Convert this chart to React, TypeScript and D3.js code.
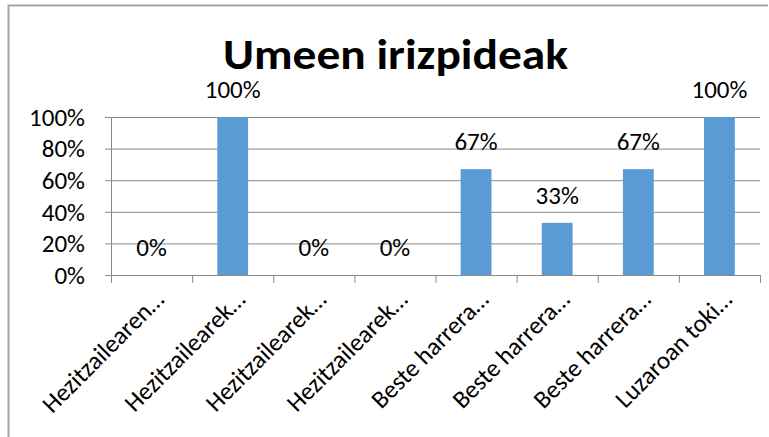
import React from 'react';
import * as d3 from 'd3';

const categories = [
  'Hezitzailearen…',
  'Hezitzailearek…',
  'Hezitzailearek…',
  'Hezitzailearek…',
  'Beste harrera…',
  'Beste harrera…',
  'Beste harrera…',
  'Luzaroan toki…',
];
const values = [0, 1, 0, 0, 0.67, 0.33, 0.67, 1];
const yTicks = [0, 0.2, 0.4, 0.6, 0.8, 1];

const width = 769;
const height = 437;
const plot = { left: 111, right: 760, top: 117, bottom: 275 };
const font = 'Carlito, Calibri, Lato, sans-serif';

const App = () => {
  const x = d3.scaleBand<number>()
    .domain(d3.range(categories.length))
    .range([plot.left, plot.right])
    .paddingInner(0)
    .paddingOuter(0);
  const y = d3.scaleLinear().domain([0, 1]).range([plot.bottom, plot.top]);
  const barW = x.bandwidth() * 0.38;
  const fmt = (v: number) => `${Math.round(v * 100)}%`;

  return (
    <svg width={width} height={height} style={{ position: 'absolute', left: 0, top: 0 }}>
      <rect x={0} y={0} width={width} height={height} fill="#fff" />
      <path d={`M8.5,${height} V5.5 H768`} fill="none" stroke="#a6a6a6" strokeWidth={2} />

      <text x={395.5} y={69} textAnchor="middle" fontFamily={font} fontWeight="bold"
        fontSize={42} fill="#000" textLength={345} lengthAdjust="spacingAndGlyphs">
        Umeen irizpideak
      </text>

      {yTicks.map(t => (
        <g key={t}>
          <line x1={plot.left - 6} x2={plot.right} y1={y(t) + 0.5} y2={y(t) + 0.5} stroke="#898989" strokeWidth={1} />
          <text x={plot.left - 26} y={y(t)} dy="0.35em" textAnchor="end" fontFamily={font}
            fontSize={25} fill="#000">{fmt(t)}</text>
        </g>
      ))}
      <line x1={plot.left + 0.5} x2={plot.left + 0.5} y1={plot.top} y2={plot.bottom + 8} stroke="#898989" />
      {d3.range(categories.length + 1).map(i => {
        const xx = i < categories.length ? x(i)! : plot.right;
        return <line key={i} x1={xx + 0.5} x2={xx + 0.5} y1={plot.bottom} y2={plot.bottom + 8} stroke="#898989" />;
      })}

      {values.map((v, i) => {
        const cx = x(i)! + x.bandwidth() / 2;
        return (
          <g key={i}>
            <rect x={cx - barW / 2} y={y(v)} width={barW} height={plot.bottom - y(v)} fill="#5b9bd5" />
            <text x={cx} y={y(v) - 19} textAnchor="middle" fontFamily={font}
              fontSize={25} fill="#000">{fmt(v)}</text>
          </g>
        );
      })}

      {categories.map((c, i) => {
        const cx = x(i)! + x.bandwidth() / 2;
        return (
          <text key={i} transform={`translate(${cx + 14},${plot.bottom + 26}) rotate(-45)`}
            textAnchor="end" fontFamily={font} fontSize={25} fill="#000">{c}</text>
        );
      })}
    </svg>
  );
};

export default App;
